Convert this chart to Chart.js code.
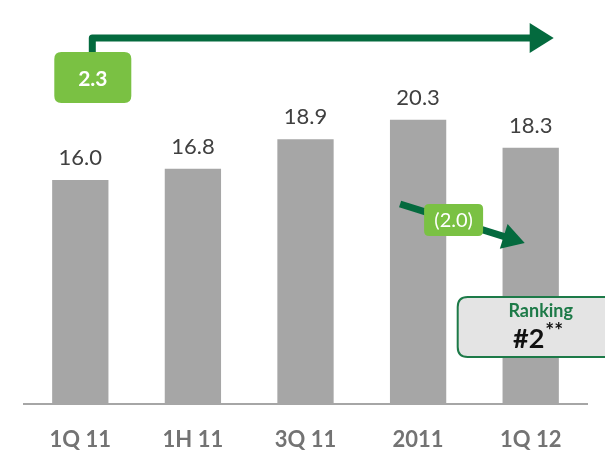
<!DOCTYPE html>
<html>
<head>
<meta charset="utf-8">
<script src="https://cdn.jsdelivr.net/npm/chart.js@4"></script>
<style>
  html, body { margin: 0; padding: 0; background: #fff; }
  #wrap { width: 605px; height: 451px; }
</style>
</head>
<body>
<div id="wrap"><canvas id="bar-chart" width="605" height="451"></canvas></div>
<script>
// DATA
var periods = ['1Q 11', '1H 11', '3Q 11', '2011', '1Q 12'];
var totals = [16.0, 16.8, 18.9, 20.3, 18.3];
var rankingTitle = 'Ranking';
var rankingValue = '#2';

var darkGreen = '#046a3e';
var lightGreen = '#7ac143';

function fmt(v) {
    return v.toFixed(1);
}

function roundRect(ctx, x, y, w, h, r) {
    ctx.beginPath();
    ctx.moveTo(x + r, y);
    ctx.lineTo(x + w - r, y);
    ctx.quadraticCurveTo(x + w, y, x + w, y + r);
    ctx.lineTo(x + w, y + h - r);
    ctx.quadraticCurveTo(x + w, y + h, x + w - r, y + h);
    ctx.lineTo(x + r, y + h);
    ctx.quadraticCurveTo(x, y + h, x, y + h - r);
    ctx.lineTo(x, y + r);
    ctx.quadraticCurveTo(x, y, x + r, y);
    ctx.closePath();
}

function arrowHead(ctx, tipX, tipY, angle, len, half) {
    ctx.save();
    ctx.translate(tipX, tipY);
    ctx.rotate(angle);
    ctx.beginPath();
    ctx.moveTo(0, 0);
    ctx.lineTo(-len, -half);
    ctx.lineTo(-len, half);
    ctx.closePath();
    ctx.fill();
    ctx.restore();
}

// value labels above the bars
var valueLabels = {
    id: 'valueLabels',
    afterDatasetsDraw: function(chart) {
        var ctx = chart.ctx;
        var meta = chart.getDatasetMeta(0);
        ctx.save();
        ctx.font = '22px Lato';
        ctx.fillStyle = '#404040';
        ctx.textAlign = 'center';
        ctx.textBaseline = 'middle';
        meta.data.forEach(function(bar, i) {
            ctx.fillText(fmt(totals[i]), bar.x, bar.y - 22);
        });
        ctx.restore();
    }
};

// growth arrows and ranking badge
var callouts = {
    id: 'callouts',
    afterDatasetsDraw: function(chart) {
        var ctx = chart.ctx;
        var x = chart.scales.x;
        var first = x.getPixelForValue(0);
        var last = x.getPixelForValue(periods.length - 1);
        var peak = x.getPixelForValue(periods.length - 2);
        var growth = totals[totals.length - 1] - totals[0];
        var drop = totals[totals.length - 1] - totals[totals.length - 2];

        ctx.save();
        // long arrow over the period
        ctx.strokeStyle = darkGreen;
        ctx.fillStyle = darkGreen;
        ctx.lineWidth = 7;
        ctx.lineJoin = 'round';
        ctx.beginPath();
        ctx.moveTo(first + 12, 60);
        ctx.lineTo(first + 12, 38);
        ctx.lineTo(last, 38);
        ctx.stroke();
        arrowHead(ctx, last + 23, 38, 0, 24, 15);

        // 2.3 box
        ctx.fillStyle = lightGreen;
        roundRect(ctx, first - 26, 52, 77, 51, 7);
        ctx.fill();
        ctx.fillStyle = '#ffffff';
        ctx.font = 'bold 21px Lato';
        ctx.textAlign = 'center';
        ctx.textBaseline = 'middle';
        ctx.fillText(fmt(growth), first + 12.5, 79);

        // short falling arrow
        var sx = peak - 18, sy = 204;
        var ex = last - 6, ey = 243;
        var ang = Math.atan2(ey - sy, ex - sx);
        ctx.strokeStyle = darkGreen;
        ctx.fillStyle = darkGreen;
        ctx.lineWidth = 7;
        ctx.beginPath();
        ctx.moveTo(sx, sy);
        ctx.lineTo(ex - 18 * Math.cos(ang), ey - 18 * Math.sin(ang));
        ctx.stroke();
        arrowHead(ctx, ex, ey, ang, 22, 13);

        // (2.0) box
        ctx.fillStyle = lightGreen;
        roundRect(ctx, peak + 6, 204, 59, 32, 5);
        ctx.fill();
        ctx.fillStyle = '#ffffff';
        ctx.font = '20px Lato';
        ctx.fillText('(' + fmt(Math.abs(drop)) + ')', peak + 35.5, 220.5);

        // ranking badge
        ctx.fillStyle = '#e4e4e4';
        ctx.strokeStyle = '#1d7a48';
        ctx.lineWidth = 2;
        roundRect(ctx, last - 73, 297, 170, 60, 10);
        ctx.fill();
        ctx.stroke();
        ctx.fillStyle = '#1d7a48';
        ctx.font = 'bold 18px Lato';
        ctx.fillText(rankingTitle, last + 10, 311);
        ctx.fillStyle = '#111111';
        ctx.font = 'bold 27px Lato';
        ctx.fillText(rankingValue, last - 2, 339);
        var w = ctx.measureText(rankingValue).width;
        ctx.font = 'bold 21px Lato';
        ctx.textAlign = 'left';
        ctx.fillText('**', last - 2 + w / 2 + 1, 331);
        ctx.restore();
    }
};

var barChart;
function loadBarChart() {
    var canvas = document.getElementById('bar-chart');
    var context = canvas.getContext('2d');
    barChart = new Chart(context, {
        type: 'bar',
        data: {
            labels: periods,
            datasets: [{
                data: totals,
                backgroundColor: '#a6a6a6',
                barPercentage: 0.5,
                categoryPercentage: 1.0
            }]
        },
        options: {
            responsive: false,
            animation: false,
            layout: {
                padding: { top: 10, left: 24, right: 18, bottom: 0 }
            },
            plugins: {
                legend: { display: false },
                tooltip: { enabled: false }
            },
            scales: {
                y: {
                    display: false,
                    min: 0,
                    max: 28.14
                },
                x: {
                    grid: { display: false, drawTicks: false },
                    border: { display: true, color: '#a6a6a6', width: 2 },
                    ticks: {
                        color: '#737373',
                        padding: 23,
                        font: { family: 'Lato', size: 22, weight: 'bold' }
                    },
                    afterFit: function(scale) {
                        scale.height = 47;
                    }
                }
            }
        },
        plugins: [valueLabels, callouts]
    });
}

loadBarChart();
</script>
</body>
</html>
